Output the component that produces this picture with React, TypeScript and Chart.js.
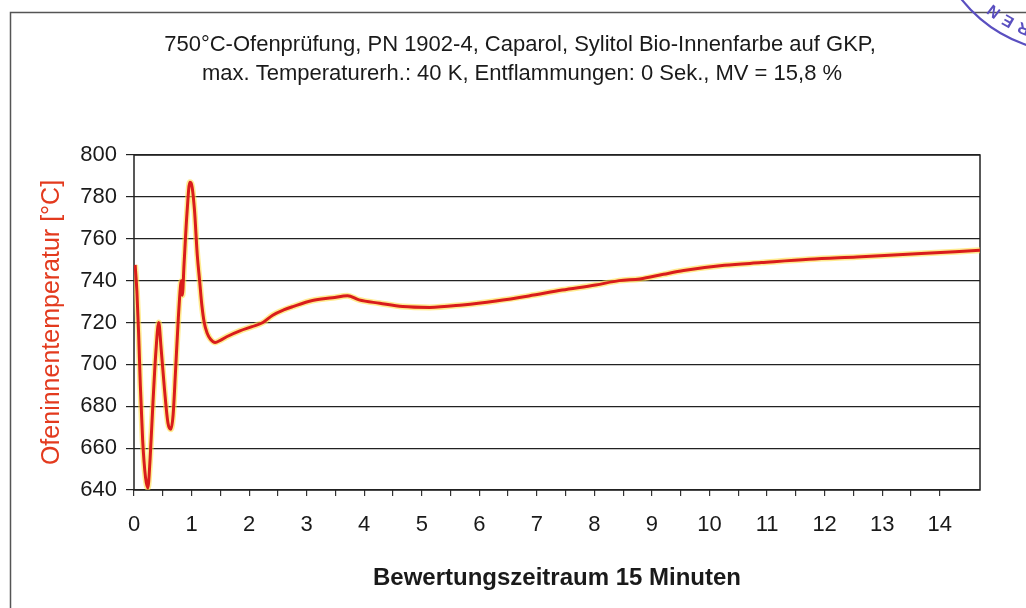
import React, { useEffect, useRef } from "react";
import { Chart, registerables } from "chart.js";

Chart.register(...registerables);

const titleLines = [
  "750°C-Ofenprüfung, PN 1902-4, Caparol, Sylitol Bio-Innenfarbe auf GKP,",
  "max. Temperaturerh.: 40 K, Entflammungen: 0 Sek., MV = 15,8 %",
];
const xAxisTitle = "Bewertungszeitraum 15 Minuten";
const yAxisTitle = "Ofeninnentemperatur [°C]";
const stampText = "REN";

// time in minutes
const timeMinutes = [
  0.02, 0.05, 0.08, 0.11, 0.15, 0.2, 0.24, 0.28, 0.33, 0.38, 0.43, 0.47, 0.53, 0.59,
  0.64, 0.68, 0.72, 0.77, 0.81, 0.825, 0.84, 0.87, 0.92, 0.97, 1.0, 1.05, 1.1, 1.14,
  1.18, 1.22, 1.27, 1.33, 1.41, 1.5, 1.61, 1.84, 2.05, 2.24, 2.41, 2.6, 2.76, 3.1,
  3.45, 3.71, 3.91, 4.27, 4.67, 5.14, 5.71, 6.29, 6.86, 7.44, 8.02, 8.43, 8.79, 9.2,
  9.55, 10.26, 10.9, 11.73, 12.56, 13.2, 13.68, 14.27, 14.7,
];
// oven temperature in °C
const temperatureC = [
  747.5, 735, 715, 690, 664, 646, 641, 655, 682, 706, 720, 708, 688, 672,
  669, 676, 696, 722, 738, 740, 733, 748, 772, 787, 786, 774, 752, 740,
  728, 720, 715, 712, 710.5, 711.5, 713.2, 716, 718, 720, 723.5, 726, 727.6, 730.5,
  731.8, 732.8, 730.8, 729.2, 727.6, 727.2, 728.4, 730.3, 732.7, 735.5, 737.9, 740, 740.8, 743,
  744.8, 747.3, 748.6, 750.2, 751.3, 752.2, 752.9, 753.8, 754.5,
];

const yMin = 640;
const yMax = 800;
const yStep = 20;
const xMin = 0;
const xMax = 14.7;
const xTickStep = 0.5;

const FONT = "'Liberation Sans', Arial, Helvetica, sans-serif";
const STAMP = "#5a4fc0";

const decorPlugin = {
  id: "decor",
  beforeDraw(chart: any) {
    const { ctx, width, height } = chart;
    ctx.save();
    ctx.fillStyle = "#ffffff";
    ctx.fillRect(0, 0, width, height);
    // outer frame (top & left visible)
    ctx.strokeStyle = "#555555";
    ctx.lineWidth = 1.5;
    ctx.beginPath();
    ctx.moveTo(10.5, height + 5);
    ctx.lineTo(10.5, 12.5);
    ctx.lineTo(width + 5, 12.5);
    ctx.stroke();
    // stamp fragment
    const cx = 1070;
    const cy = -86;
    ctx.strokeStyle = STAMP;
    ctx.lineWidth = 2.2;
    ctx.beginPath();
    ctx.arc(cx, cy, 138, Math.PI * 0.5, Math.PI * 0.95);
    ctx.stroke();
    ctx.fillStyle = STAMP;
    ctx.font = `bold 16px ${FONT}`;
    ctx.textAlign = "center";
    ctx.textBaseline = "middle";
    const anglesDeg = [112, 120, 128];
    for (let i = 0; i < stampText.length; i++) {
      const a = (anglesDeg[i] * Math.PI) / 180;
      const r = 123;
      const x = cx + r * Math.cos(a);
      const y = cy + r * Math.sin(a);
      ctx.save();
      ctx.translate(x, y);
      ctx.rotate(a + Math.PI / 2);
      ctx.fillText(stampText[i], 0, 0);
      ctx.restore();
    }
    ctx.restore();
  },
  beforeDatasetsDraw(chart: any) {
    const { ctx, chartArea } = chart;
    ctx.save();
    ctx.strokeStyle = "#222222";
    ctx.lineWidth = 1.5;
    ctx.strokeRect(chartArea.left, chartArea.top, chartArea.right - chartArea.left, chartArea.bottom - chartArea.top);
    ctx.restore();
  },
  afterDraw(chart: any) {
    const { ctx } = chart;
    ctx.save();
    ctx.fillStyle = "#1a1a1a";
    ctx.font = `22px ${FONT}`;
    ctx.textAlign = "center";
    ctx.textBaseline = "middle";
    ctx.fillText(titleLines[0], 520, 45);
    ctx.fillText(titleLines[1], 522, 74);
    ctx.restore();
  },
};

export default function App() {
  const canvasRef = useRef<HTMLCanvasElement | null>(null);

  useEffect(() => {
    if (!canvasRef.current) return;
    const points = timeMinutes.map((t, i) => ({ x: t, y: temperatureC[i] }));
    const chart = new Chart(canvasRef.current, {
      type: "line",
      data: {
        datasets: [
          {
            label: yAxisTitle,
            data: points,
            borderColor: "#d91c1c",
            borderWidth: 3,
            pointRadius: 0,
            cubicInterpolationMode: "monotone",
          },
          {
            label: "glow",
            data: points,
            borderColor: "rgba(255, 222, 70, 0.6)",
            borderWidth: 6,
            pointRadius: 0,
            cubicInterpolationMode: "monotone",
          },
        ],
      },
      options: {
        animation: false,
        responsive: false,
        events: [],
        layout: { padding: { top: 155, right: 46, left: 0, bottom: 0 } },
        plugins: {
          legend: { display: false },
          title: { display: false },
          tooltip: { enabled: false },
        },
        scales: {
          x: {
            type: "linear",
            min: xMin,
            max: xMax,
            afterFit(scale: any) {
              scale.height = 118;
            },
            afterBuildTicks(scale: any) {
              scale.ticks = scale.ticks.filter(
                (t: any) => Math.abs(t.value / xTickStep - Math.round(t.value / xTickStep)) < 1e-6
              );
            },
            border: { display: false },
            grid: {
              display: true,
              drawOnChartArea: false,
              drawTicks: true,
              tickLength: 6,
              color: "#333333",
              lineWidth: 1.2,
            },
            ticks: {
              stepSize: xTickStep,
              autoSkip: false,
              maxRotation: 0,
              minRotation: 0,
              padding: 16,
              color: "#1a1a1a",
              font: { family: FONT, size: 22 },
              callback: (v: any) => (Number.isInteger(Number(v)) ? String(v) : ""),
            },
            title: {
              display: true,
              text: xAxisTitle,
              color: "#1a1a1a",
              font: { family: FONT, size: 24, weight: "bold" },
              padding: { top: 0, bottom: 15 },
            },
          },
          y: {
            min: yMin,
            max: yMax,
            afterFit(scale: any) {
              scale.width = 134;
            },
            border: { display: false },
            grid: {
              display: true,
              drawOnChartArea: true,
              drawTicks: true,
              tickLength: 8,
              color: "#222222",
              lineWidth: 1.2,
            },
            ticks: {
              stepSize: yStep,
              padding: 9,
              color: "#1a1a1a",
              font: { family: FONT, size: 22 },
            },
            title: {
              display: true,
              text: yAxisTitle,
              color: "#e33a1e",
              font: { family: FONT, size: 25 },
              padding: { top: 37, bottom: 0 },
            },
          },
        },
      },
      plugins: [decorPlugin],
    });
    return () => chart.destroy();
  }, []);

  return (
    <div style={{ position: "absolute", left: 0, top: 0, width: 1026, height: 608 }}>
      <canvas ref={canvasRef} width={1026} height={608} />
    </div>
  );
}
